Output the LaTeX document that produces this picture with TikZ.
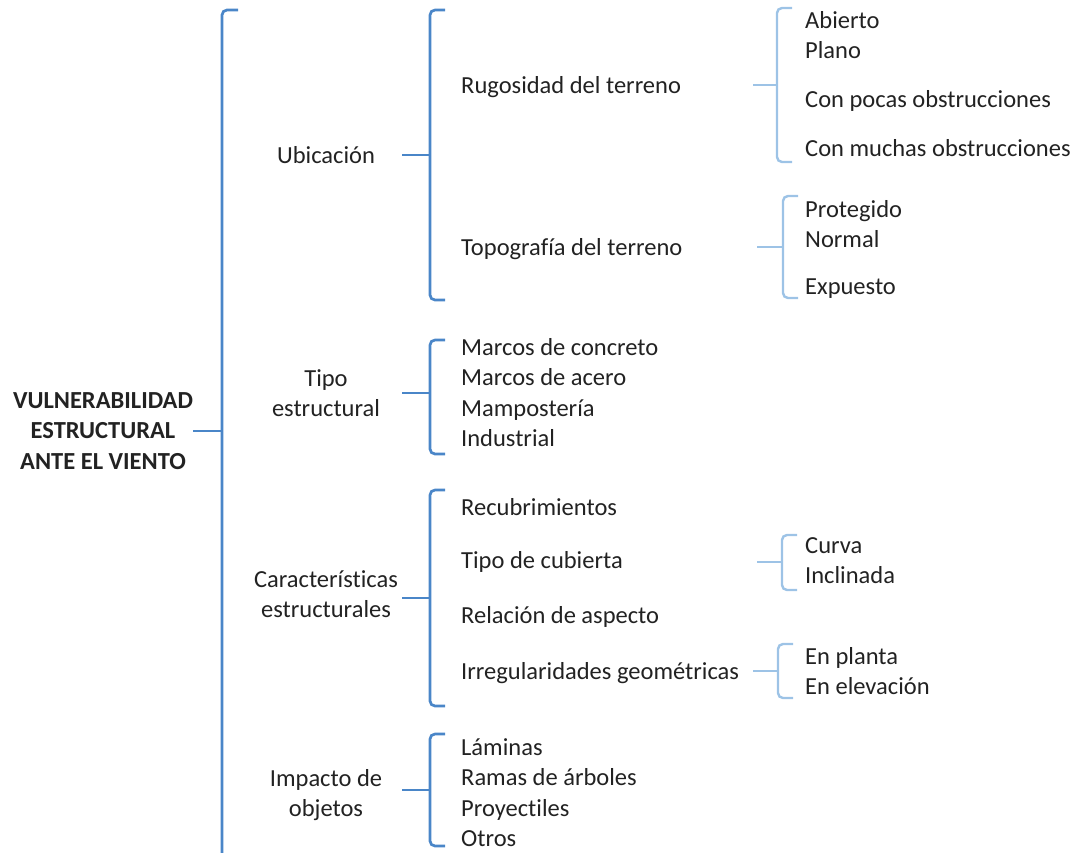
\documentclass[tikz,border=0pt]{standalone}
\usepackage{fontspec}
\setmainfont{Carlito}[Ligatures=NoCommon]
\usetikzlibrary{calc}
\definecolor{dkblue}{HTML}{4A86C8}
\definecolor{ltblue}{HTML}{9DC3E6}
\definecolor{txt}{HTML}{222222}
\tikzset{
  item/.style={inner sep=0pt, anchor=base west, text=txt, font=\fontsize{24.5}{30}\selectfont},
  cat/.style={inner sep=0pt, anchor=base, align=center, text=txt, font=\fontsize{24.5}{30}\selectfont},
  dkline/.style={draw=dkblue, line width=2.7pt},
  ltline/.style={draw=ltblue, line width=2.4pt},
}
\newcommand\mybrace[4]{% style, x, top, bottom
  \draw[#1, rounded corners=5pt] ($(#2,#3)+(15,0)$) -- (#2,#3) -- (#2,#4) -- ($(#2,#4)+(15,0)$);
}
\begin{document}
\begin{tikzpicture}[x=1pt,y=-1pt]
\useasboundingbox (0,0) rectangle (1077,852);
% root (anchor = baseline of last line)
\node[cat, font=\fontsize{24.5}{30.5}\selectfont\bfseries] (root) at (103,469) {VULNERABILIDAD\\ESTRUCTURAL\\ANTE EL VIENTO};
\coordinate (rootS) at (193,431);
\coordinate (rootB) at (222,431);
\draw[dkline, rounded corners=5pt] (238,10) -- (222,10) -- (222,860);
\draw[dkline] (rootS) -- (rootB);
% level 1
\node[cat] (ubi) at (326,163) {Ubicación};
\node[cat] (tipo) at (326,416) {Tipo\\estructural};
\node[cat] (carac) at (326,617) {Características\\estructurales};
\node[cat] (imp) at (326,816) {Impacto de\\objetos};
% level 1 braces
\mybrace{dkline}{430}{10}{300}
\mybrace{dkline}{430}{340}{454}
\mybrace{dkline}{430}{490}{706}
\mybrace{dkline}{430}{734}{846}
\coordinate (ubiS) at (402,155); \coordinate (ubiB) at (430,155);
\coordinate (tipoS) at (402,393); \coordinate (tipoB) at (430,393);
\coordinate (caracS) at (402,598); \coordinate (caracB) at (430,598);
\coordinate (impS) at (402,790); \coordinate (impB) at (430,790);
\draw[dkline] (ubiS) -- (ubiB);
\draw[dkline] (tipoS) -- (tipoB);
\draw[dkline] (caracS) -- (caracB);
\draw[dkline] (impS) -- (impB);
% level 2 items (baselines)
\node[item] (rug) at (461,93) {Rugosidad del terreno};
\node[item] (topo) at (461,255) {Topografía del terreno};
\node[item] (mc) at (461,355) {Marcos de concreto};
\node[item] (ma) at (461,385) {Marcos de acero};
\node[item] (mam) at (461,416) {Mampostería};
\node[item] (ind) at (461,446) {Industrial};
\node[item] (rec) at (461,515) {Recubrimientos};
\node[item] (cub) at (461,568) {Tipo de cubierta};
\node[item] (rel) at (461,623) {Relación de aspecto};
\node[item] (irr) at (461,679) {Irregularidades geométricas};
\node[item] (lam) at (461,755) {Láminas};
\node[item] (ram) at (461,785) {Ramas de árboles};
\node[item] (pro) at (461,816) {Proyectiles};
\node[item] (otr) at (461,846) {Otros};
% level 2 braces
\mybrace{ltline}{777}{8}{162}
\mybrace{ltline}{783}{196}{298}
\mybrace{ltline}{782}{535}{590}
\mybrace{ltline}{778}{644}{698}
\coordinate (rugS) at (753,85); \coordinate (rugB) at (777,85);
\coordinate (topoS) at (757,247); \coordinate (topoB) at (783,247);
\coordinate (cubS) at (757,562); \coordinate (cubB) at (782,562);
\coordinate (irrS) at (753,671); \coordinate (irrB) at (778,671);
\draw[ltline] (rugS) -- (rugB);
\draw[ltline] (topoS) -- (topoB);
\draw[ltline] (cubS) -- (cubB);
\draw[ltline] (irrS) -- (irrB);
% level 3 items (baselines)
\node[item] (abi) at (805,28) {Abierto};
\node[item] (pla) at (805,58) {Plano};
\node[item] (cpo) at (805,107) {Con pocas obstrucciones};
\node[item] (cmu) at (805,156) {Con muchas obstrucciones};
\node[item] (prot) at (805,217) {Protegido};
\node[item] (nor) at (805,247) {Normal};
\node[item] (exp) at (805,294) {Expuesto};
\node[item] (cur) at (805,553) {Curva};
\node[item] (inc) at (805,583) {Inclinada};
\node[item] (pln) at (805,664) {En planta};
\node[item] (ele) at (805,694) {En elevación};
\end{tikzpicture}
\end{document}
